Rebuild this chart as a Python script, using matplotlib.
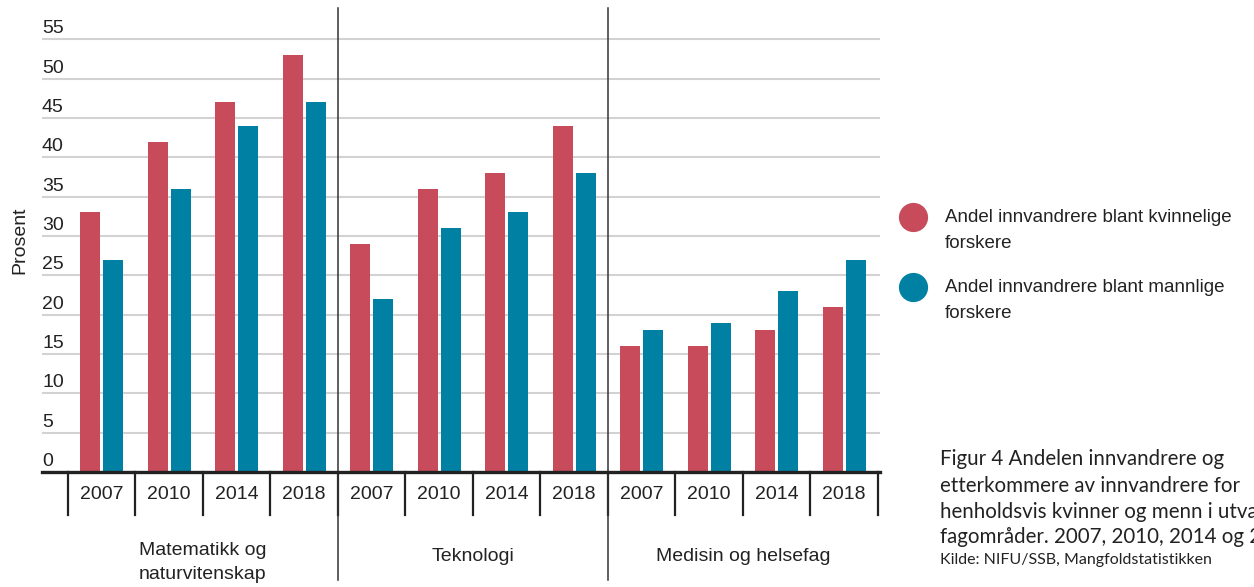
import numpy as np
import matplotlib
matplotlib.use("Agg")
import matplotlib.pyplot as plt
from matplotlib.transforms import ScaledTranslation
from matplotlib.lines import Line2D

# ---------------- data ----------------
groups = ["Matematikk og\nnaturvitenskap", "Teknologi", "Medisin og helsefag"]
years = ["2007", "2010", "2014", "2018"]
women = [33, 42, 47, 53, 29, 36, 38, 44, 16, 16, 18, 21]
men = [27, 36, 44, 47, 22, 31, 33, 38, 18, 19, 23, 27]
series_labels = ["Andel innvandrere blant kvinnelige\nforskere",
                 "Andel innvandrere blant mannlige\nforskere"]
series_colors = ["#c84b5b", "#0080a3"]
yticks = list(range(0, 60, 5))
ylabel = "Prosent"
caption = ["Figur 4 Andelen innvandrere og",
           "etterkommere av innvandrere for",
           "henholdsvis kvinner og menn i utvalgte",
           "fagområder. 2007, 2010, 2014 og 2018."]
source = "Kilde: NIFU/SSB, Mangfoldstatistikken"

# ---------------- figure ----------------
plt.rcParams['font.family'] = ['Liberation Sans', 'DejaVu Sans']
W, H = 1254, 587
fig = plt.figure(figsize=(W / 100, H / 100), dpi=100)
left, right, base, top = 42, 880, 472, 8
ax = fig.add_axes([left / W, 1 - base / H, (right - left) / W, (base - top) / H])

n = len(women)
x = np.arange(n) + 0.5
bw = 0.3
ax.bar(x - 0.17, women, bw, color=series_colors[0], zorder=3)
ax.bar(x + 0.17, men, bw, color=series_colors[1], zorder=3)

ax.set_xlim(-0.385, 12.03)
ax.set_ylim(0, 59)
for s in ax.spines.values():
    s.set_visible(False)

# y axis: gridlines and labels sitting above the lines
ax.set_yticks(yticks)
ax.set_yticklabels([str(v) for v in yticks])
ax.yaxis.grid(True, color="#d2d2d2", lw=1.5)
ax.set_axisbelow(True)
ax.tick_params(axis='y', length=0, pad=0, labelsize=14, labelcolor="#222222")
off = ScaledTranslation(0, 0.125, fig.dpi_scale_trans)
for lbl in ax.get_yticklabels():
    lbl.set_horizontalalignment('left')
    lbl.set_transform(lbl.get_transform() + off)

ax.set_ylabel(ylabel, fontsize=14, color="#222222")
ax.yaxis.set_label_coords(-0.0165, 0.5)

# x axis: year labels, separators, group labels
ax.set_xticks(x)
ax.set_xticklabels(years * len(groups))
ax.tick_params(axis='x', length=0, pad=10, labelsize=14, labelcolor="#222222")

ax.axhline(0, color="#222222", lw=2.4, clip_on=False, zorder=5)
xt = ax.get_xaxis_transform()
for i in range(n + 1):
    ax.plot([i, i], [0, -0.093], transform=xt, clip_on=False, color="#222222", lw=1.6)
for i in [4, 8]:
    ax.plot([i, i], [-0.233, 1.0], transform=xt, clip_on=False, color="#333333", lw=1.1)

gy = [-0.195, -0.183, -0.183]
for g, name in enumerate(groups):
    ax.text(g * 4 + 2, gy[g], name, transform=xt, ha='center', va='center',
            fontsize=14, color="#222222", linespacing=1.55)

# legend (manual, circle aligned to first line)
leg_y = [217, 287]
for k in range(2):
    fig.add_artist(Line2D([913 / W], [1 - leg_y[k] / H], marker='o', markersize=20,
                          color=series_colors[k], transform=fig.transFigure))
    for j, line in enumerate(series_labels[k].split("\n")):
        fig.text(945 / W, 1 - (leg_y[k] + 26 * j) / H, line, ha='left', va='center',
                 fontsize=13.5, color="#222222")

# caption (runs off the right edge, as in the source image)
cap_y = [459, 486, 512, 537]
for j, line in enumerate(caption):
    fig.text(940 / W, 1 - cap_y[j] / H, line, ha='left', va='center', fontsize=14.8,
             color="#222222", family=['Lato', 'DejaVu Sans'])
fig.text(940 / W, 1 - 560 / H, source, ha='left', va='center', fontsize=11.5,
         color="#222222", family=['Lato', 'DejaVu Sans'])

fig.savefig("out.png", dpi=100)
